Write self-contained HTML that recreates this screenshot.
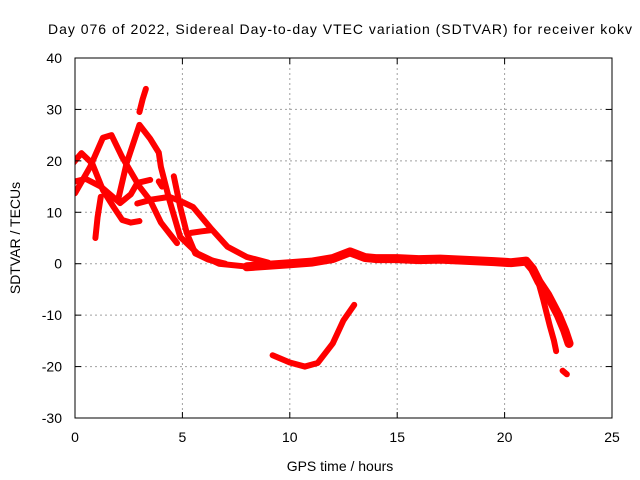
<!DOCTYPE html>
<html><head><meta charset="utf-8"><style>body{margin:0;background:#fff}svg{display:block;font-family:"Liberation Sans",sans-serif}</style></head>
<body>
<svg id="chart" width="640" height="480">
<defs><clipPath id="pc"><rect x="75" y="58" width="537" height="360"/></clipPath></defs>
<rect width="640" height="480" fill="#fff"/>
<g id="grid"></g><g id="marks" clip-path="url(#pc)"></g><g id="axes"></g>
<text x="340" y="34" text-anchor="middle" font-size="14" textLength="584">Day 076 of 2022, Sidereal Day-to-day VTEC variation (SDTVAR) for receiver kokv</text>
<text x="340" y="471" text-anchor="middle" font-size="14">GPS time / hours</text>
<text transform="translate(20,238) rotate(-90)" text-anchor="middle" font-size="14">SDTVAR / TECUs</text>
</svg>
<script>
const xTicks=[0,5,10,15,20,25];
const yTicks=[-30,-20,-10,0,10,20,30,40];
const track1=[[-0.1,19.5],[0.3,21.5],[0.8,19.5],[1.3,14.3],[1.8,11],[2.2,8.5],[2.6,8],[3,8.3]];
const track2=[[0,13.7],[0.7,18.8],[1.3,24.5],[1.7,25],[2.2,20.7],[3,15],[3.5,12.3],[4,8],[4.75,4]];
const track3=[[0,16],[0.5,16.5],[1.2,15],[2.1,11.8],[2.6,13.5],[2.9,15.7],[3.5,16.3]];
const track4=[[2,12.3],[2.4,19.5],[3,27],[3.5,24.3],[3.9,21.6],[4,18.8],[4.4,12.3],[4.9,5.2],[5.7,2],[6.7,0],[8.1,-0.6]];
const track5=[[2.9,11.7],[3.6,12.5],[4.4,13],[5,12],[5.5,11],[6.3,7],[7.1,3.3],[8,1.3],[9,0.2]];
const track6=[[4.6,17],[4.9,11],[5.2,6],[5.6,2],[6.2,0.8],[7,0]];
const track7=[[5.4,6],[5.9,6.3],[6.3,6.5]];
const track8=[[0.95,5],[1.05,9],[1.2,13]];
const track9=[[3.0,29.5],[3.15,32],[3.3,34]];
const track10=[[3.9,16],[4.05,15]];
const track11=[[8,-0.6],[9,-0.3],[10,0],[11,0.3],[12,1],[12.8,2.3],[13.5,1.2],[14,1],[15,1],[16,0.8],[17,0.9],[17.5,0.8],[18.5,0.6],[19.5,0.4],[20.3,0.2],[21,0.5],[21.3,-1],[21.6,-3.5],[22,-6],[22.5,-10],[22.8,-13],[23,-15.5]];
const track12=[[21.5,-2.5],[21.8,-7],[22.1,-12],[22.3,-15],[22.4,-17]];
const track13=[[9.2,-17.8],[10,-19.2],[10.7,-20],[11.3,-19.3],[12,-15.5],[12.5,-11],[13,-8]];
const track14=[[22.7,-20.8],[22.9,-21.5]];
const tracks=[track1,track2,track3,track4,track5,track6,track7,track8,track9,track10,track11,track12,track13,track14];
const L=75,R=612,T=58,B=418;
const sx=v=>L+(v-0)/25*(R-L), sy=v=>B-(v+30)/70*(B-T);
const NS='http://www.w3.org/2000/svg';
const mk=(t,a,p)=>{const e=document.createElementNS(NS,t);for(const k in a)e.setAttribute(k,a[k]);p.appendChild(e);return e;};
const grid=document.getElementById('grid'),axes=document.getElementById('axes'),marks=document.getElementById('marks');
xTicks.forEach(t=>{const x=sx(t);
 if(t>0&&t<25){const g=mk('line',{x1:x,x2:x,y1:T,y2:B,stroke:'#a0a0a0','stroke-dasharray':'2,3'},grid);
 
 }
 mk('line',{x1:x,x2:x,y1:B,y2:B-6,stroke:'#000'},axes);mk('line',{x1:x,x2:x,y1:T,y2:T+6,stroke:'#000'},axes);
 const tx=mk('text',{x:x,y:B+24,'text-anchor':'middle','font-size':14},axes);tx.textContent=t;
 
 });
yTicks.forEach(t=>{const y=sy(t);
 if(t>-30&&t<40){const g=mk('line',{x1:L,x2:R,y1:y,y2:y,stroke:'#a0a0a0','stroke-dasharray':'2,3'},grid);
 
 }
 mk('line',{x1:L,x2:L+6,y1:y,y2:y,stroke:'#000'},axes);mk('line',{x1:R,x2:R-6,y1:y,y2:y,stroke:'#000'},axes);
 const tx=mk('text',{x:62,y:y+5,'text-anchor':'end','font-size':14},axes);tx.textContent=t;
 
 });
const fr=mk('rect',{x:L,y:T,width:R-L,height:B-T,fill:'none',stroke:'#000'},axes);


tracks.forEach((tr,i)=>{
 const p=mk('polyline',{points:tr.map(d=>sx(d[0])+','+sy(d[1])).join(' '),fill:'none',stroke:'#f00','stroke-width':i==10?9:6,'stroke-linejoin':'round','stroke-linecap':'round'},marks);
 
 
});
</script>
</body></html>
